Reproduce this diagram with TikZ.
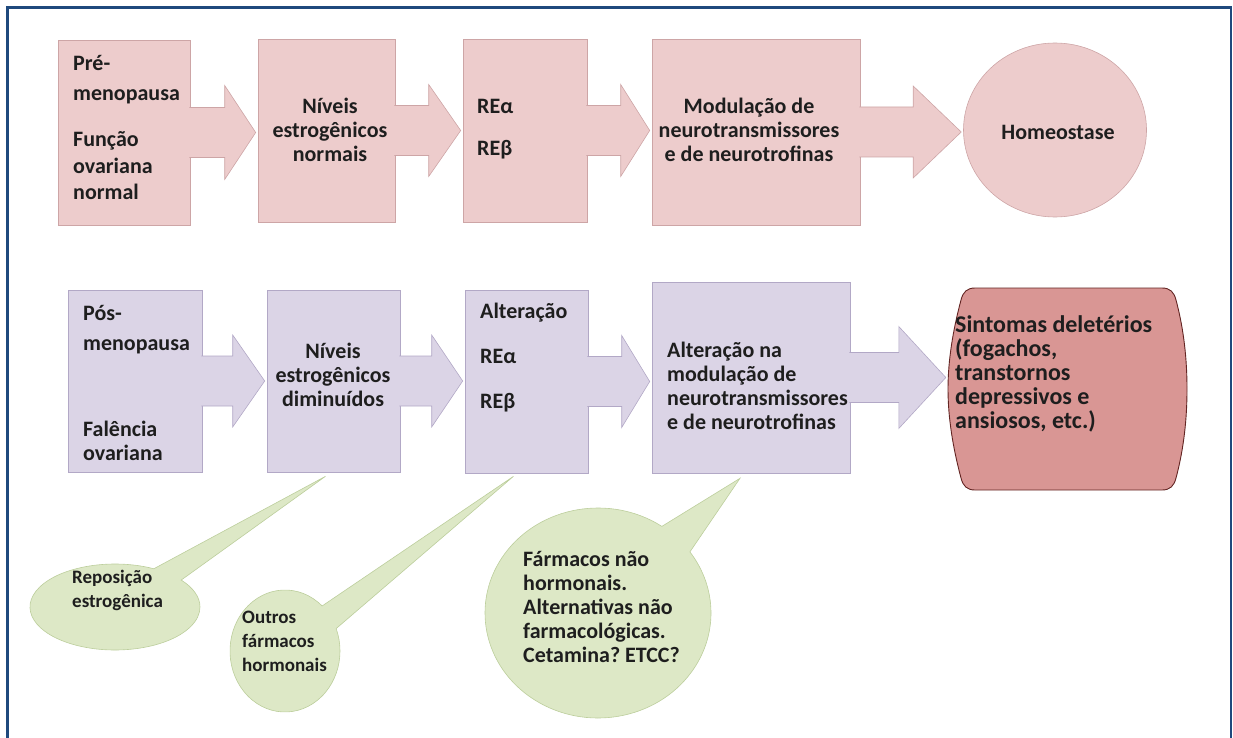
\documentclass[tikz,border=0pt]{standalone}
\usepackage{fontspec}
\setmainfont{Carlito}
\usetikzlibrary{calc,shapes.geometric,shapes.callouts}

\definecolor{framebl}{RGB}{31,73,125}
\definecolor{pinkfill}{RGB}{237,204,204}
\definecolor{pinkline}{RGB}{205,165,166}
\definecolor{lilacfill}{RGB}{219,212,230}
\definecolor{lilacline}{RGB}{178,168,198}
\definecolor{rosefill}{RGB}{217,150,148}
\definecolor{roseline}{RGB}{99,37,35}
\definecolor{greenfill}{RGB}{221,232,198}
\definecolor{greenline}{RGB}{188,206,156}
\definecolor{inkc}{RGB}{30,30,30}

% block arrow from box #2 to box #3, head length #4, head half width #5
\newcommand{\blockarrow}[5]{%
  \draw[#1] let \p1=(#2.east), \p2=(#3.west) in
    (\x1-1pt,\y1+25pt) -- (\x2-#4pt,\y1+25pt) -- (\x2-#4pt,\y1+#5pt)
    -- (\x2-2pt,\y1) -- (\x2-#4pt,\y1-#5pt) -- (\x2-#4pt,\y1-25pt) -- (\x1-1pt,\y1-25pt);}

\begin{document}
\begin{tikzpicture}[x=1pt,y=-1pt,
  every node/.style={inner sep=0pt, text=inkc, font=\bfseries\frenchspacing\fontsize{22}{24}\selectfont},
  pinkbox/.style={rectangle, draw=pinkline, fill=pinkfill, line width=0.6pt},
  lilacbox/.style={rectangle, draw=lilacline, fill=lilacfill, line width=0.6pt},
  pinkarr/.style={draw=pinkline, fill=pinkfill, line width=0.6pt},
  lilacarr/.style={draw=lilacline, fill=lilacfill, line width=0.6pt},
  bubble/.style={ellipse callout, draw=greenline, fill=greenfill, line width=0.6pt},
  txt/.style={align=left, anchor=west},
  ctxt/.style={align=center},
  smalltxt/.style={font=\bfseries\fontsize{19}{24}\selectfont}]
\useasboundingbox (0,0) rectangle (1233,738);
% frame, open at the bottom
\draw[framebl, line width=3pt] (7.5,738) -- (7.5,7.5) -- (1232,7.5);
\draw[framebl, line width=1.5pt] (1231,7.5) -- (1231,738);

% upper row: before menopause
\node[pinkbox, minimum width=132pt, minimum height=185pt] (A) at (124,132.5) {};
\node[pinkbox, minimum width=137pt, minimum height=183pt] (B) at (326.5,130.5) {};
\node[pinkbox, minimum width=124pt, minimum height=183pt] (C) at (525,130.5) {};
\node[pinkbox, minimum width=208pt, minimum height=186pt] (D) at (756,132) {};
\node[ellipse, draw=pinkline, fill=pinkfill, line width=0.6pt, minimum width=183pt, minimum height=174pt] (E) at (1055,130) {};
\blockarrow{pinkarr}{A}{B}{33}{47}
\blockarrow{pinkarr}{B}{C}{34}{46}
\blockarrow{pinkarr}{C}{D}{31}{46}
\blockarrow{pinkarr}{D}{E}{50}{46}

% lower row: after menopause
\node[lilacbox, minimum width=134pt, minimum height=182pt] (F) at (135,381) {};
\node[lilacbox, minimum width=133pt, minimum height=182pt] (G) at (333.5,381) {};
\node[lilacbox, minimum width=123pt, minimum height=183pt] (H) at (526.5,381.5) {};
\node[lilacbox, minimum width=198pt, minimum height=191pt] (I) at (751,377.5) {};
\node[rectangle, minimum width=239pt, minimum height=202pt] (J) at (1067.5,389) {};
\draw[roseline, fill=rosefill, line width=0.9pt] (975,288) -- (1162,288)
  .. controls (1170,288) and (1174,292) .. (1176,300)
  .. controls (1184,330) and (1187,360) .. (1187,389)
  .. controls (1187,418) and (1184,448) .. (1176,478)
  .. controls (1174,486) and (1170,490) .. (1162,490) -- (975,490)
  .. controls (967,490) and (963,486) .. (961,478)
  .. controls (953,448) and (948,418) .. (948,389)
  .. controls (948,360) and (953,330) .. (961,300)
  .. controls (963,292) and (967,288) .. cycle;
\blockarrow{lilacarr}{F}{G}{34}{46}
\blockarrow{lilacarr}{G}{H}{33}{46}
\blockarrow{lilacarr}{H}{I}{30}{46}
\blockarrow{lilacarr}{I}{J}{49}{51}

% callouts under the lower row
\coordinate (tipK) at ($(G.south)+(-8,4)$);
\coordinate (tipL) at ($(H.south)+(-13,3)$);
\coordinate (tipM) at ($(I.south)+(-11,5)$);
\node[bubble, minimum width=170pt, minimum height=86pt, callout pointer arc=24, callout absolute pointer={(tipK)}] (K) at (115,607) {};
\node[bubble, minimum width=110pt, minimum height=122pt, callout pointer arc=26, callout absolute pointer={(tipL)}] (L) at (285,651) {};
\node[bubble, minimum width=226pt, minimum height=210pt, callout pointer arc=20, callout absolute pointer={(tipM)}] (M) at (598,613) {};

% texts
\node[txt] (Atx) at (73,127) {Pré-\\[6pt]menopausa\\[22pt]Função\\[3pt]ovariana\\[2pt]normal};
\node[ctxt] (Btx) at (330,130) {Níveis\\estrogênicos\\normais};
\node[txt] (Ctx) at (477,129) {REα\\[18pt]REβ};
\node[ctxt] (Dtx) at (749,130) {Modulação de\\neurotransmissores\\e de neurotrofinas};
\node (Etx) at (1058,132) {Homeostase};
\node[txt] (Ftx) at (83,383) {Pós-\\[6pt]menopausa\\[62pt]Falência\\ovariana};
\node[ctxt] (Gtx) at (333,375) {Níveis\\estrogênicos\\diminuídos};
\node[txt] (Htx) at (480,358) {Alteração\\[21pt]REα\\[21pt]REβ};
\node[txt] (Itx) at (667,386) {Alteração na\\modulação de\\neurotransmissores\\e de neurotrofinas};
\node[txt, font=\bfseries\frenchspacing\fontsize{24}{24}\selectfont] (Jtx) at (955,374) {Sintomas deletérios\\(fogachos,\\transtornos\\depressivos e\\ansiosos, etc.)};
\node[txt, smalltxt] (Ktx) at (72,590) {Reposição\\estrogênica};
\node[txt, smalltxt] (Ltx) at (242,641) {Outros\\fármacos\\hormonais};
\node[txt] (Mtx) at (523,607) {Fármacos não\\hormonais.\\Alternativas não\\farmacológicas.\\Cetamina? ETCC?};
\end{tikzpicture}
\end{document}
